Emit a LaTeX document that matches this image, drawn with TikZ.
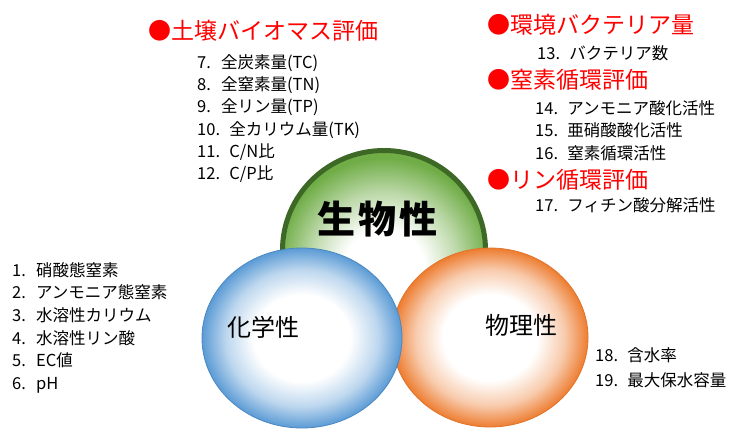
\documentclass[tikz,border=0pt]{standalone}
\usepackage{fontspec}
\setmainfont{Noto Sans CJK JP}
\usetikzlibrary{shapes.geometric}
\definecolor{redc}{RGB}{255,0,0}
\definecolor{greenc}{RGB}{112,173,71}
\definecolor{greenring}{RGB}{62,104,38}
\definecolor{bluec}{RGB}{91,155,213}
\definecolor{blueline}{RGB}{75,135,195}
\definecolor{orangec}{RGB}{237,125,49}
\definecolor{orangeline}{RGB}{225,115,40}
\pgfdeclareradialshading{gshade}{\pgfpoint{0bp}{-6bp}}{color(0bp)=(white); color(10bp)=(white); color(18bp)=(greenc!45); color(26bp)=(greenc); color(50bp)=(greenc)}
\pgfdeclareradialshading{bshade}{\pgfpoint{0bp}{0bp}}{color(0bp)=(white); color(12bp)=(white); color(19bp)=(bluec!40); color(25bp)=(bluec); color(50bp)=(bluec)}
\pgfdeclareradialshading{oshade}{\pgfpoint{0bp}{0bp}}{color(0bp)=(white); color(12bp)=(white); color(19bp)=(orangec!40); color(25bp)=(orangec); color(50bp)=(orangec)}
\newcommand{\nsa}[1]{\makebox[1.45em][l]{#1.}}
\newcommand{\nsb}[1]{\makebox[1.95em][l]{#1.}}
\begin{document}
\begin{tikzpicture}[x=1bp,y=-1bp,
  heading/.style={anchor=base west, inner sep=0pt, text=redc, font=\fontsize{23bp}{23bp}\selectfont},
  item/.style={anchor=base west, inner sep=0pt, text=black, font=\fontsize{16.5bp}{16.5bp}\selectfont},
  bubble/.style={ellipse, inner sep=0pt, shade},
  biglabel/.style={anchor=base, inner sep=0pt, font=\fontsize{38bp}{38bp}\selectfont\bfseries},
  sublabel/.style={anchor=base west, inner sep=0pt, font=\fontsize{24bp}{24bp}\selectfont}]
\useasboundingbox (0,0) rectangle (745,428);
% circles
\node[bubble, shading=gshade, draw=greenring, line width=5bp, minimum width=203bp, minimum height=199bp] (green) at (384,250) {};
\node[bubble, shading=oshade, draw=orangeline, line width=0.8bp, minimum width=196bp, minimum height=179bp] (orange) at (490,337.5) {};
\node[bubble, shading=bshade, draw=blueline, line width=0.8bp, minimum width=200bp, minimum height=180bp] (blue) at (302,338) {};
% circle labels
\node[biglabel] (bio) at (377.5,233) {生\hspace{0.08em}物\hspace{0.08em}性};
\node[sublabel] (chem) at (227,336) {化学性};
\node[sublabel] (phys) at (485,334) {物理性};
% top-left group
\node[heading] (h1) at (148,39.7) {●土壌バイオマス評価};
\node[item] (i7) at (197,68) {\nsa{7}全炭素量(TC)};
\node[item] (i8) at (197,90.3) {\nsa{8}全窒素量(TN)};
\node[item] (i9) at (197,112.6) {\nsa{9}全リン量(TP)};
\node[item] (i10) at (197,135) {\nsb{10}全カリウム量(TK)};
\node[item] (i11) at (197,157.3) {\nsb{11}C/N比};
\node[item] (i12) at (197,179.6) {\nsb{12}C/P比};
% top-right group
\node[heading] (h2) at (487,33.7) {●環境バクテリア量};
\node[item] (i13) at (537,59.3) {\nsb{13}バクテリア数};
\node[heading] (h3) at (487,88.7) {●窒素循環評価};
\node[item] (i14) at (535,114.3) {\nsb{14}アンモニア酸化活性};
\node[item] (i15) at (535,136.3) {\nsb{15}亜硝酸酸化活性};
\node[item] (i16) at (535,159.3) {\nsb{16}窒素循環活性};
\node[heading] (h4) at (487,188.7) {●リン循環評価};
\node[item] (i17) at (535,211.3) {\nsb{17}フィチン酸分解活性};
% left group
\node[item] (i1) at (12,276.3) {\nsa{1}硝酸態窒素};
\node[item] (i2) at (12,298.9) {\nsa{2}アンモニア態窒素};
\node[item] (i3) at (12,321.3) {\nsa{3}水溶性カリウム};
\node[item] (i4) at (12,344.3) {\nsa{4}水溶性リン酸};
\node[item] (i5) at (12,366.8) {\nsa{5}EC値};
\node[item] (i6) at (12,389.3) {\nsa{6}pH};
% bottom-right group
\node[item] (i18) at (595,361.3) {\nsb{18}含水率};
\node[item] (i19) at (595,386.3) {\nsb{19}最大保水容量};
\end{tikzpicture}
\end{document}
